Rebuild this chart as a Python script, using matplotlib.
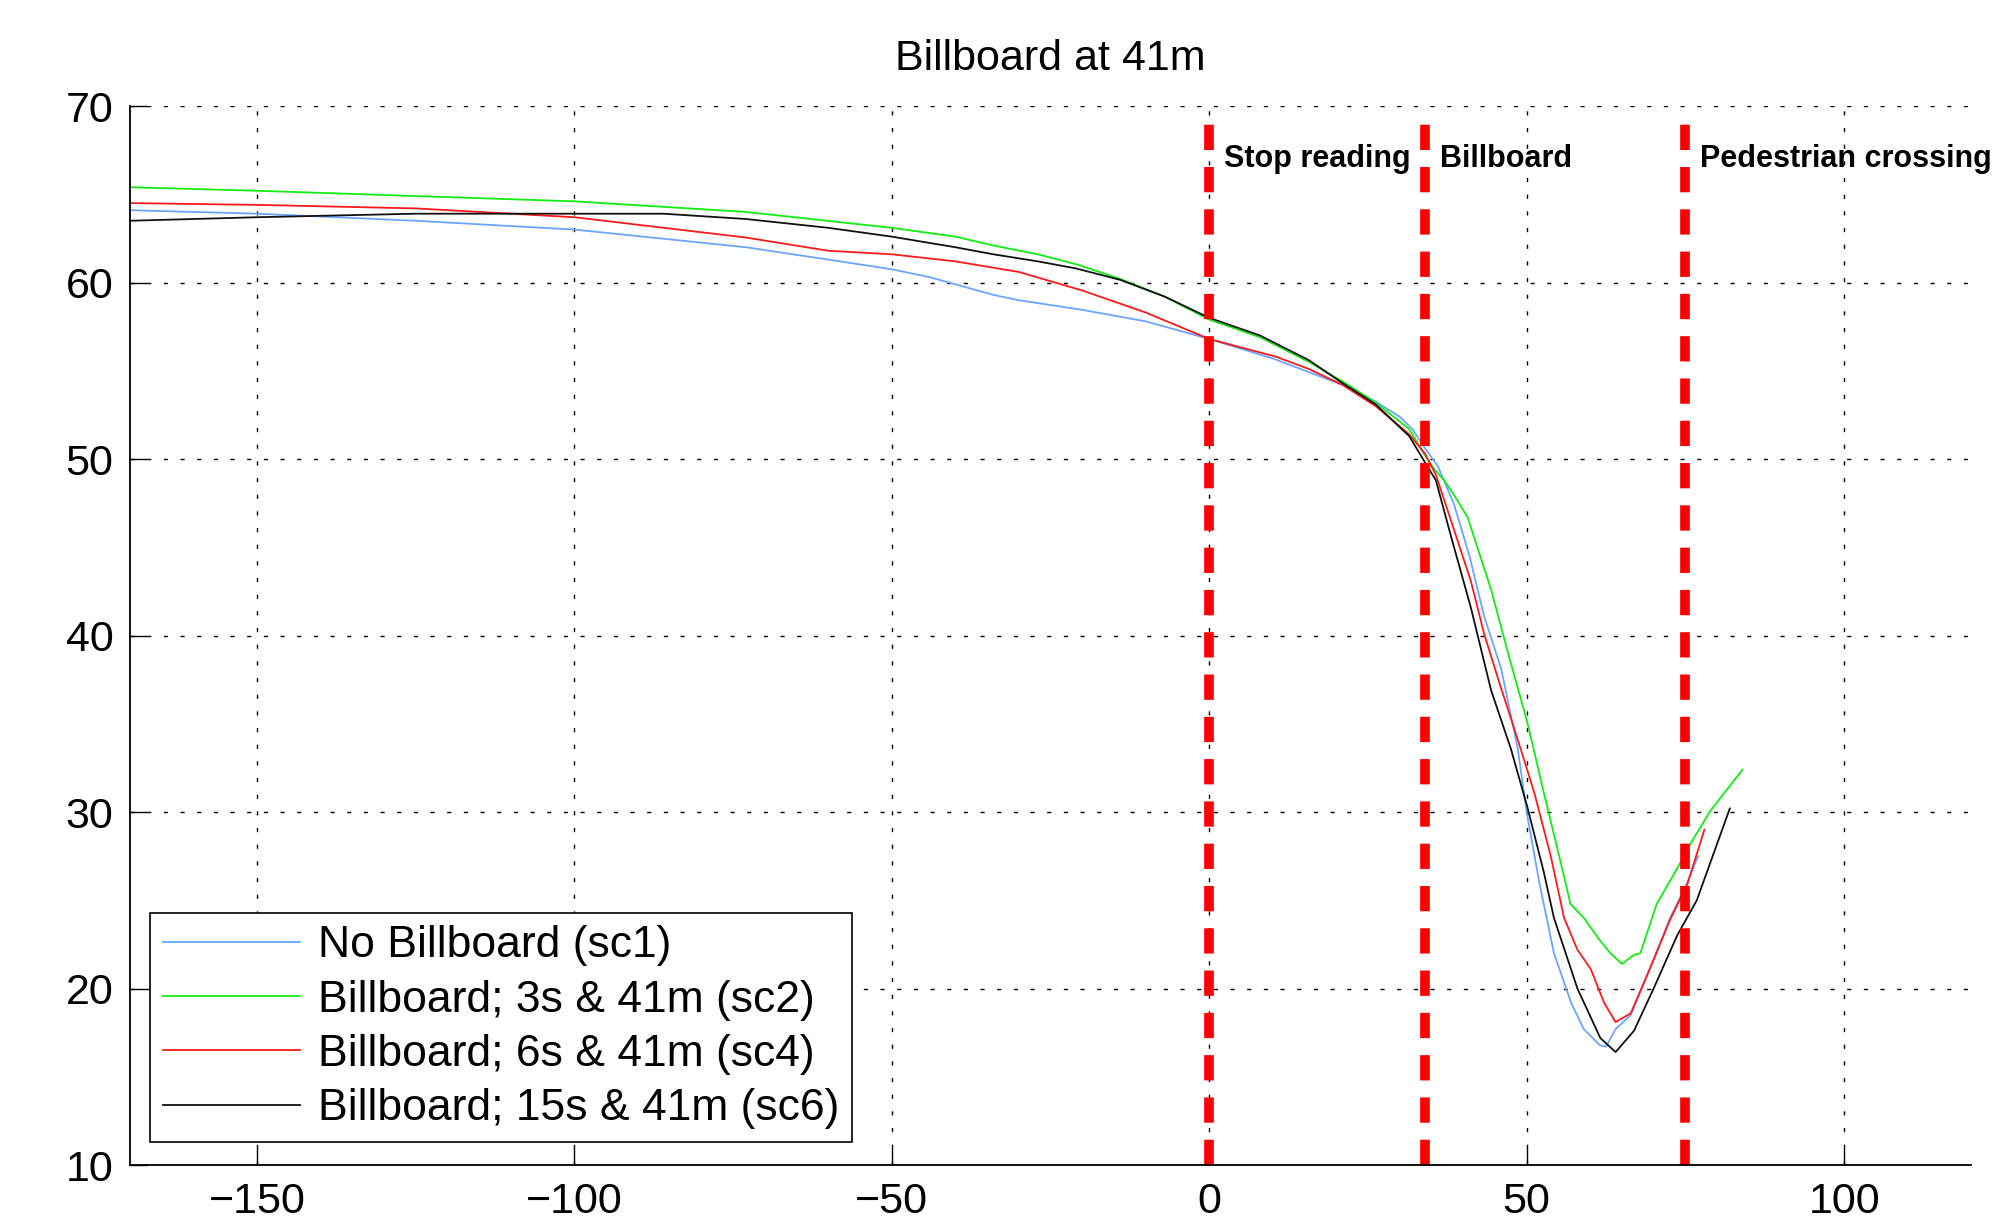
import matplotlib
matplotlib.use("Agg")
import matplotlib.pyplot as plt

params = {
    'font.family': ['Liberation Sans', 'DejaVu Sans'],
    'font.size': 31,
    'axes.unicode_minus': True,
}
plt.rcParams.update(params)

# distance along road (m) and value for each scenario
x_sc1 = [-170, -150, -125, -100, -73, -60, -50, -44, -40, -34, -30, -20, -10, 0, 10, 21, 26, 30, 32, 34, 36,
         38.5, 41, 43.3, 46, 48.6, 50, 52, 54.3, 57, 59, 61.5, 62.5, 64, 66.4, 69.5, 72.6, 75.3, 77]
y_sc1 = [64.1, 63.9, 63.5, 63.0, 62.0, 61.3, 60.75, 60.3, 59.9, 59.3, 59.0, 58.45, 57.8, 56.8, 55.7, 54.2,
         53.3, 52.4, 51.7, 50.6, 49.6, 47.5, 44.5, 41.1, 38.1, 33.6, 30.0, 26.0, 22.0, 19.2, 17.7, 16.8,
         16.7, 17.7, 18.5, 21.2, 24.0, 26.0, 27.5]

x_sc2 = [-170, -150, -125, -100, -73, -50, -40, -34, -27, -20.6, -14, -7, 0, 8, 15.7, 21, 26.2, 31.5, 34,
         35.5, 37, 38.5, 40.7, 44.4, 47, 50.1, 52.7, 54.8, 56.9, 59, 61.6, 63.2, 65, 66.9, 67.9, 70.5, 73.7,
         75.8, 78.9, 84]
y_sc2 = [65.4, 65.2, 64.9, 64.6, 64.0, 63.1, 62.6, 62.1, 61.6, 61.0, 60.2, 59.2, 57.9, 56.9, 55.5, 54.4,
         53.2, 51.7, 50.2, 49.4, 48.8, 48.0, 46.7, 42.6, 39.1, 35.1, 31.1, 28.0, 24.8, 24.0, 22.7, 22.0,
         21.4, 21.9, 22.0, 24.8, 26.8, 28.2, 30.05, 32.4]

x_sc4 = [-170, -150, -125, -100, -73, -60, -50, -40, -30, -20, -10, 0, 10.5, 15.7, 21, 26.2, 31.5, 34,
         35.7, 38.1, 41.2, 43.3, 45.9, 48.6, 51.2, 53.8, 55.9, 58, 60.1, 62.2, 64, 66.4, 69.5, 72.6, 75.3, 78]
y_sc4 = [64.5, 64.4, 64.2, 63.7, 62.55, 61.8, 61.6, 61.2, 60.6, 59.55, 58.3, 56.8, 55.8, 55.1, 54.2, 53.0,
         51.4, 50.3, 49.1, 46.5, 43.1, 40.1, 37.1, 34.1, 31.1, 27.5, 24.0, 22.2, 21.1, 19.2, 18.1, 18.6,
         21.2, 23.9, 25.9, 29.0]

x_sc6 = [-170, -150, -125, -100, -86, -73, -60, -50, -40, -34, -27, -21, -14, -7, 0, 8, 15.7, 21, 26.2,
         31.5, 34, 35.7, 38.1, 41.2, 44.4, 47.5, 50.1, 52.7, 54.3, 58, 61.6, 64, 66.9, 70, 73.7, 76.8, 82]
y_sc6 = [63.5, 63.7, 63.9, 63.9, 63.9, 63.6, 63.1, 62.6, 62.0, 61.6, 61.2, 60.8, 60.15, 59.2, 58.0, 57.0,
         55.6, 54.3, 53.1, 51.3, 49.8, 48.8, 45.6, 41.6, 36.9, 33.6, 30.3, 26.6, 24.0, 20.0, 17.2, 16.4,
         17.6, 20.0, 23.0, 25.0, 30.2]

labels = ['No Billboard (sc1)', 'Billboard; 3s & 41m (sc2)',
          'Billboard; 6s & 41m (sc4)', 'Billboard; 15s & 41m (sc6)']
colors = ['#6aa6ff', '#11ee11', '#ff1a1a', '#111111']

marker_x = [0, 34, 75]
marker_names = ['Stop reading', 'Billboard', 'Pedestrian crossing']

fig = plt.figure(figsize=(19.97, 12.16), dpi=100)
ax = fig.add_axes([0.0651, 0.0419, 0.9219, 0.8709])

series = [(x_sc1, y_sc1), (x_sc2, y_sc2), (x_sc4, y_sc4), (x_sc6, y_sc6)]
for (xs, ys), lab, col in zip(series, labels, colors):
    ax.plot(xs, ys, color=col, linewidth=1.3, label=lab)

for mx, name in zip(marker_x, marker_names):
    ax.plot([mx, mx], [10, 69], color='#ff0000', linewidth=7, linestyle=(0, (2.6, 1.75)))
    ax.text(mx + 2.3, 67.0, name, fontsize=22, fontweight='bold', va='center', ha='left')

ax.set_xlim(-170, 120)
ax.set_ylim(10, 70)
ax.set_xticks([-150, -100, -50, 0, 50, 100])
ax.set_yticks([10, 20, 30, 40, 50, 60, 70])
ax.grid(True, color='black', linestyle=(0, (3, 9)), linewidth=1)
ax.tick_params(direction='in', length=12, width=1, pad=12, labelsize=31)
ax.spines['top'].set_visible(False)
ax.spines['right'].set_visible(False)
for s in ['left', 'bottom']:
    ax.spines[s].set_linewidth(1.3)

ax.set_title('Billboard at 41m', fontsize=31, pad=26)

leg = ax.legend(loc='lower left', bbox_to_anchor=(0.011, 0.022), fancybox=False, framealpha=1,
                edgecolor='black', fontsize=32, handlelength=3.1, labelspacing=0.3,
                borderpad=0.28, handletextpad=0.4, borderaxespad=0)
leg.get_frame().set_linewidth(1.2)

plt.savefig('out.png', dpi=100)
